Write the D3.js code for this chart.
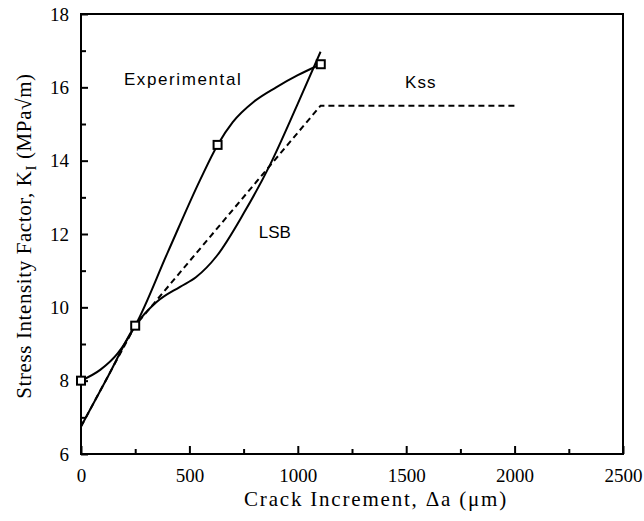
<!DOCTYPE html>
<html>
<head>
<meta charset="utf-8">
<title>Stress Intensity Factor vs Crack Increment</title>
<script src="https://d3js.org/d3.v7.min.js"></script>
<style>
body { margin: 0; background: #fff; }
.tick text { font-family: "Liberation Serif", "Times New Roman", serif; font-size: 19px; fill: #000; }
.tick line { stroke: #000; stroke-width: 2px; }
.label { font-family: "Liberation Sans", Arial, sans-serif; font-size: 17px; fill: #000; }
.title { font-family: "Liberation Serif", "Times New Roman", serif; font-size: 21px; fill: #000; }
</style>
</head>
<body>
<div id="chart"></div>
<script>
// values: [crack increment (um), K (MPa sqrt m)]
var experimental = [[0, 8.0], [90, 8.3], [170, 8.75], [250, 9.5], [400, 11.5], [549, 13.47], [630, 14.43],
                    [700, 15.05], [800, 15.62], [900, 16.0], [1000, 16.33], [1106, 16.63]];
var expMarkers = [[0, 8.0], [250, 9.5], [630, 14.43], [1106, 16.63]];
var lsb = [[0, 6.75], [125, 8.12], [250, 9.5], [350, 10.15], [457, 10.56], [530, 10.82], [626, 11.4],
           [749, 12.55], [873, 13.9], [996, 15.5], [1105, 16.97]];
var kss = [[0, 6.75], [250, 9.5], [1105, 15.5], [2000, 15.5]];
var xTicks = [0, 500, 1000, 1500, 2000, 2500];
var yTicks = [6, 8, 10, 12, 14, 16, 18];
var xMinor = [250, 750, 1250, 1750, 2250];
var yMinor = [7, 9, 11, 13, 15, 17];

var width = 644, height = 521;
var margin = {top: 14, right: 21, bottom: 67, left: 81};
var w = width - margin.left - margin.right;
var h = height - margin.top - margin.bottom;

var svg = d3.select("#chart").append("svg")
	.attr("width", width)
	.attr("height", height);

var g = svg.append("g")
	.attr("transform", "translate(" + margin.left + "," + margin.top + ")");

var x = d3.scaleLinear().domain([0, 2500]).range([0, w]);
var y = d3.scaleLinear().domain([6, 18]).range([h, 0]);

// ticks point inward
g.append("g")
	.attr("transform", "translate(0," + h + ")")
	.call(d3.axisBottom(x).tickValues(xTicks).tickSize(-8).tickPadding(15).tickFormat(d3.format("d")))
	.call(function(a) { a.select(".domain").remove(); });
g.append("g")
	.attr("transform", "translate(0," + h + ")")
	.call(d3.axisBottom(x).tickValues(xMinor).tickSize(-5).tickFormat(""))
	.call(function(a) { a.select(".domain").remove(); });
g.append("g")
	.call(d3.axisLeft(y).tickValues(yTicks).tickSize(-7).tickPadding(12).tickFormat(d3.format("d")))
	.call(function(a) { a.select(".domain").remove(); });
g.append("g")
	.call(d3.axisLeft(y).tickValues(yMinor).tickSize(-5).tickFormat(""))
	.call(function(a) { a.select(".domain").remove(); });

g.append("rect")
	.attr("width", w)
	.attr("height", h)
	.attr("fill", "none")
	.attr("stroke", "#000")
	.attr("stroke-width", 2);

var line = d3.line()
	.x(function(d) { return x(d[0]); })
	.y(function(d) { return y(d[1]); });

var smooth = d3.line()
	.x(function(d) { return x(d[0]); })
	.y(function(d) { return y(d[1]); })
	.curve(d3.curveMonotoneX);

g.append("path")
	.attr("d", line(kss))
	.attr("fill", "none")
	.attr("stroke", "#000")
	.attr("stroke-width", 2)
	.attr("stroke-dasharray", "6,4");

g.append("path")
	.attr("d", smooth(lsb))
	.attr("fill", "none")
	.attr("stroke", "#000")
	.attr("stroke-width", 2);

g.append("path")
	.attr("d", smooth(experimental))
	.attr("fill", "none")
	.attr("stroke", "#000")
	.attr("stroke-width", 2);

g.selectAll(".marker")
	.data(expMarkers)
	.enter()
	.append("rect")
		.attr("x", function(d) { return x(d[0]) - 4; })
		.attr("y", function(d) { return y(d[1]) - 4; })
		.attr("width", 8)
		.attr("height", 8)
		.attr("fill", "#fff")
		.attr("stroke", "#000")
		.attr("stroke-width", 2);

// curve labels
g.append("text").attr("class", "label")
	.attr("x", x(198)).attr("y", y(16.06))
	.style("letter-spacing", "1.6px")
	.text("Experimental");
g.append("text").attr("class", "label")
	.attr("x", x(820)).attr("y", y(11.88))
	.text("LSB");
g.append("text").attr("class", "label")
	.attr("x", x(1495)).attr("y", y(15.97))
	.style("letter-spacing", "1px")
	.text("Kss");

// axis titles
svg.append("text").attr("class", "title")
	.attr("x", 376)
	.attr("y", 506)
	.attr("text-anchor", "middle")
	.style("letter-spacing", "1.8px")
	.text("Crack Increment, \u0394a (\u03bcm)");

var yt = svg.append("text").attr("class", "title")
	.attr("transform", "translate(31," + 236 + ") rotate(-90)")
	.attr("text-anchor", "middle")
	.style("letter-spacing", "0.6px");
yt.append("tspan").text("Stress Intensity Factor, K");
yt.append("tspan").attr("dy", 5).style("font-size", "15px").text("I");
yt.append("tspan").attr("dy", -5).text(" (MPa\u221am)");
</script>
</body>
</html>
